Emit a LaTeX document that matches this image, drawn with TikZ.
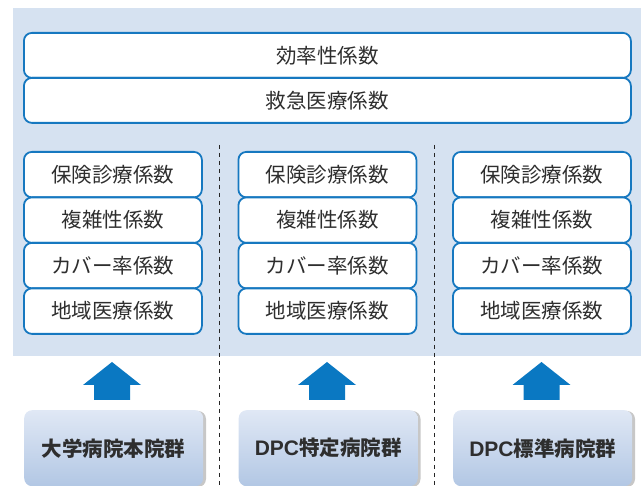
\documentclass[tikz,border=0pt]{standalone}
\usepackage{fontspec}
\setmainfont{Noto Sans CJK JP}
\newfontfamily\latfont{Liberation Sans}
\definecolor{bgblue}{HTML}{D6E2F1}
\definecolor{lineblue}{HTML}{1678C0}
\definecolor{arrowblue}{HTML}{0A78C2}
\definecolor{txt}{HTML}{2E2E2E}
\definecolor{gtop}{HTML}{E0E8F5}
\definecolor{gbot}{HTML}{B2C7E4}
\tikzset{
  coef/.style={draw=lineblue, line width=1.8pt, fill=white, rounded corners=8pt, text=txt, font=\fontsize{20.5}{22}\selectfont, inner sep=0pt},
  group/.style={rounded corners=8pt, top color=gtop, bottom color=gbot, text=txt, font=\fontsize{20.5}{22}\selectfont\bfseries, inner sep=0pt},
  sep/.style={dash pattern=on 4.5pt off 3.5pt, line width=0.9pt, black!85},
  uparrow/.style={fill=arrowblue, draw=none}
}
\newcommand{\dpc}{{\latfont\bfseries\fontsize{21}{22}\selectfont DPC}}
\begin{document}
\begin{tikzpicture}[x=1pt,y=-1pt]
\useasboundingbox (0,0) rectangle (641,486);
\clip (0,0) rectangle (641,486);
\fill[bgblue] (13,8) rectangle (641,356);
% top boxes
\node[coef, minimum width=607pt, minimum height=45pt, anchor=north west] (eff) at (23,32) {効率性係数};
\node[coef, minimum width=607pt, minimum height=45pt, anchor=north west] (emg) at (23,77) {救急医療係数};
% column boxes
\foreach \c/\x in {a/23, b/237.5, c/452}{
  \node[coef, minimum width=178pt, minimum height=45.5pt, anchor=north west] (\c1) at (\x,151) {保険診療係数};
  \node[coef, minimum width=178pt, minimum height=45.5pt, anchor=north west] (\c2) at (\x,196.5) {複雑性係数};
  \node[coef, minimum width=178pt, minimum height=45.5pt, anchor=north west] (\c3) at (\x,242) {カバー率係数};
  \node[coef, minimum width=178pt, minimum height=45.5pt, anchor=north west] (\c4) at (\x,287.5) {地域医療係数};
}
% dashed separators
\coordinate (s1t) at (219,145); \coordinate (s1b) at (219,486);
\coordinate (s2t) at (434,145); \coordinate (s2b) at (434,486);
\draw[sep] (s1t) -- (s1b);
\draw[sep] (s2t) -- (s2b);
% bottom group boxes
\foreach \c/\x/\t in {ga/24/大学病院本院群, gb/238.5/\dpc 特定病院群, gc/453/\dpc 標準病院群}{
  \fill[black!22, rounded corners=8pt] (\x+3,411) rectangle (\x+182,487);
  \node[group, minimum width=179pt, minimum height=76pt, anchor=north west] (\c) at (\x,410) {\t};
}
% arrows
\foreach \c/\x in {ga/112, gb/327, gc/541.5}{
  \fill[uparrow] (\x-18,400) -- (\x-18,385) -- (\x-29,385) -- (\x,362) -- (\x+29,385) -- (\x+18,385) -- (\x+18,400) -- cycle;
}
\end{tikzpicture}
\end{document}
